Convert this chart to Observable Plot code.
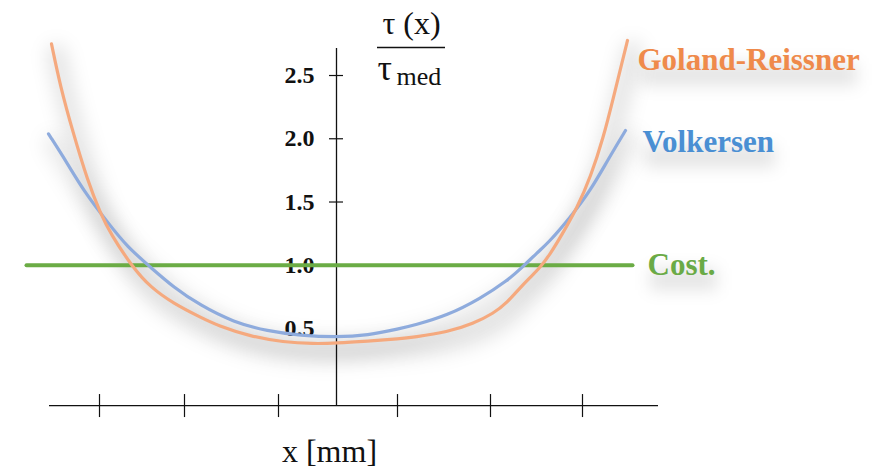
<!DOCTYPE html>
<html><head><meta charset="utf-8">
<script src="https://cdn.jsdelivr.net/npm/d3@7"></script>
<script src="https://cdn.jsdelivr.net/npm/@observablehq/plot@0.6"></script>
<style>html,body{margin:0;padding:0;background:#fff;overflow:hidden}</style>
</head><body><div id="chart"></div>
<script>
// ---- data (x in mm, relative to the centre of the overlap; y = tau(x)/tau_med) ----
const grX = [-28.5,-27.6,-26.4,-24.9,-23.6,-22.6,-20.4,-18.6,-16.3,-13.6,-11.9,-8.6,-5.3,-2.3,0,3.1,6.4,7.7,11.1,13.7,15.7,17.1,18.4,19.4,20.4,21.4,22.4,24.1,25.4,26.7,27.7,28.6,29.1];
const grY = [2.75,2.41,2.065,1.67,1.41,1.25,0.985,0.826,0.698,0.589,0.524,0.437,0.392,0.379,0.384,0.40,0.419,0.431,0.471,0.54,0.619,0.708,0.826,0.906,0.985,1.093,1.222,1.459,1.696,2.012,2.328,2.619,2.777];
const vkX = [-28.8,-26.9,-25.3,-22.9,-20.9,-18.6,-16.3,-13.6,-10.3,-6.9,-3.6,0,3.1,6.4,7.7,11.1,14.4,17.1,18.6,20.1,21.1,23.4,25.4,27.1,28.9];
const vkY = [2.039,1.804,1.591,1.34,1.143,0.985,0.826,0.682,0.55,0.479,0.445,0.431,0.445,0.50,0.524,0.603,0.737,0.879,0.985,1.103,1.17,1.38,1.591,1.828,2.065];
const costX = [-31.0, 29.6];
const costY = [1.0, 1.0];
const seriesNames = ["Goland-Reissner", "Volkersen", "Cost."];
const seriesColors = ["#F5A97E", "#8EABDD", "#6BAC45"];
const labelColors = ["#EF8A4B", "#4A8FD3", "#6AAA46"];
const yTickValues = [0.5, 1.0, 1.5, 2.0, 2.5];
const yTickLabels = ["0.5", "1.0", "1.5", "2.0", "2.5"];
const yTickMarks = [1.0, 1.5, 2.0, 2.5];
const xTickValues = [-23.7, -15.2, -5.8, 6.1, 15.4, 24.6];
const xAxisExtent = [-28.7, 32.2];
const yAxisBase = -0.109;
const yAxisTop = 2.713;
const xLabel = "x [mm]";
const yLabelTop = "τ (x)";
const yLabelBottom = "τ";
const yLabelSub = "med";

// ---- tables ----
const gr = grX.map((x, i) => ({x, y: grY[i]}));
const vk = vkX.map((x, i) => ({x, y: vkY[i]}));
const cost = costX.map((x, i) => ({x, y: costY[i]}));
const ticksY = yTickValues.map((y, i) => ({y, label: yTickLabels[i]}));
const serif = "'Liberation Serif', 'Times New Roman', serif";
const axisOrigin = [{x: 0, y: yAxisBase}];
const axisTopPt = [{x: 0, y: yAxisTop}];
const grEnd = [gr[gr.length - 1]];
const vkEnd = [vk[vk.length - 1]];
const costEnd = [cost[cost.length - 1]];

const plot = Plot.plot({
  width: 892, height: 470,
  marginTop: 0, marginBottom: 0, marginLeft: 0, marginRight: 0,
  x: {domain: [-33.6, 55.6], axis: null},
  y: {domain: [-0.6225, 3.093], axis: null},
  style: {background: "transparent", fontFamily: serif},
  marks: [
    // soft shadows (blurred afterwards)
    Plot.line(gr, {x: "x", y: "y", curve: "basis", stroke: "#000", strokeOpacity: 0.10, strokeWidth: 20, dx: 5, dy: 10}),
    Plot.line(vk, {x: "x", y: "y", curve: "basis", stroke: "#000", strokeOpacity: 0.08, strokeWidth: 20, dx: 5, dy: 10}),
    Plot.ruleY(grEnd, {y: "y", x1: "x", x2: "x", insetLeft: 14, insetRight: -230, dy: 34, stroke: "#000", strokeOpacity: 0.10, strokeWidth: 22}),
    Plot.ruleY(vkEnd, {y: "y", x1: "x", x2: "x", insetLeft: 20, insetRight: -150, dy: 26, stroke: "#000", strokeOpacity: 0.10, strokeWidth: 22}),
    Plot.ruleY(costEnd, {y: "y", x1: "x", x2: "x", insetLeft: 18, insetRight: -85, dy: 14, stroke: "#000", strokeOpacity: 0.10, strokeWidth: 22}),
    // axes
    Plot.ruleY(axisOrigin, {x1: () => xAxisExtent[0], x2: () => xAxisExtent[1], y: "y", stroke: "#111", strokeWidth: 1.3}),
    Plot.ruleX(xTickValues, {x: d => d, y1: () => yAxisBase, y2: () => yAxisBase, insetTop: -11, insetBottom: -12, stroke: "#111", strokeWidth: 1.2}),
    Plot.ruleX(axisOrigin, {x: "x", y1: "y", y2: () => yAxisTop, stroke: "#111", strokeWidth: 1.3}),
    Plot.ruleY(yTickMarks, {y: d => d, x1: () => 0, x2: () => 0, insetLeft: -7, insetRight: -7, stroke: "#111", strokeWidth: 1.2}),
    Plot.text(ticksY, {x: () => 0, y: "y", text: "label", textAnchor: "end", dx: -22, fontSize: 24, fontWeight: "bold", fill: "#111"}),
    // series
    Plot.line(cost, {x: "x", y: "y", stroke: seriesColors[2], strokeWidth: 4}),
    Plot.line(vk, {x: "x", y: "y", curve: "basis", stroke: seriesColors[1], strokeWidth: 3.2}),
    Plot.line(gr, {x: "x", y: "y", curve: "basis", stroke: seriesColors[0], strokeWidth: 3.2}),
    // series labels
    Plot.text(grEnd, {x: "x", y: "y", text: () => seriesNames[0], textAnchor: "start", dx: 10, dy: 20, fontSize: 31, fontWeight: "bold", fill: labelColors[0]}),
    Plot.text(vkEnd, {x: "x", y: "y", text: () => seriesNames[1], textAnchor: "start", dx: 17, dy: 12, fontSize: 31, fontWeight: "bold", fill: labelColors[1]}),
    Plot.text(costEnd, {x: "x", y: "y", text: () => seriesNames[2], textAnchor: "start", dx: 15, dy: 0, fontSize: 31, fontWeight: "bold", fill: labelColors[2]}),
    // axis titles
    Plot.text(axisOrigin, {x: "x", y: "y", text: () => xLabel, dx: -7, dy: 46, fontSize: 32, fill: "#111"}),
    Plot.text(axisTopPt, {x: "x", y: "y", text: () => yLabelTop, textAnchor: "middle", dx: 75, dy: -25, fontSize: 32, fill: "#111"}),
    Plot.ruleY(axisTopPt, {y: "y", x1: () => 0, x2: () => 0, insetLeft: 41, insetRight: -109, dy: -1, stroke: "#111", strokeWidth: 1.5}),
    Plot.text(axisTopPt, {x: "x", y: "y", text: () => yLabelBottom, textAnchor: "start", dx: 41, dy: 20, fontSize: 36, fill: "#111"}),
    Plot.text(axisTopPt, {x: "x", y: "y", text: () => yLabelSub, textAnchor: "start", dx: 60, dy: 28, fontSize: 26, fill: "#111"})
  ]
});

// blur the shadow marks (the first five mark groups)
const groups = plot.querySelectorAll(":scope > g");
for (let i = 0; i < 5 && i < groups.length; i++) {
  groups[i].style.filter = i < 2 ? "blur(9px)" : "blur(8px)";
}
document.getElementById("chart").appendChild(plot);
</script>
</body></html>
